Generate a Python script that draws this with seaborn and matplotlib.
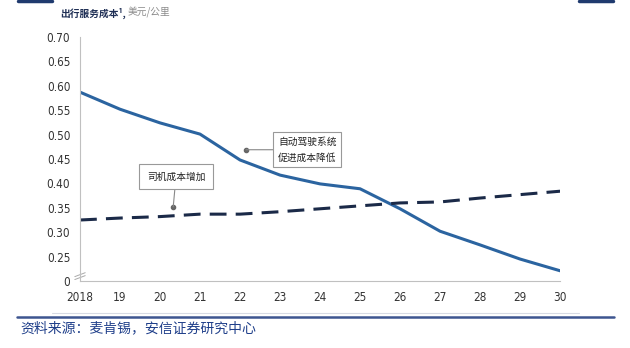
import matplotlib
matplotlib.use("Agg")
import matplotlib.pyplot as plt
import seaborn as sns
import pandas as pd
from matplotlib.lines import Line2D
from matplotlib import font_manager

# Mobility service cost, USD per km
years = [2018, 2019, 2020, 2021, 2022, 2023, 2024, 2025, 2026, 2027, 2028, 2029, 2030]
year_labels = ["2018", "19", "20", "21", "22", "23", "24", "25", "26", "27", "28", "29", "30"]
autonomous_cost = [0.587, 0.552, 0.524, 0.501, 0.448, 0.417, 0.399, 0.389, 0.348, 0.302, 0.274, 0.245, 0.221]
driver_cost = [0.325, 0.329, 0.332, 0.337, 0.337, 0.342, 0.348, 0.354, 0.360, 0.362, 0.370, 0.377, 0.384]
y_ticks = [0.20, 0.25, 0.30, 0.35, 0.40, 0.45, 0.50, 0.55, 0.60, 0.65, 0.70]
y_tick_labels = ["0", "0.25", "0.30", "0.35", "0.40", "0.45", "0.50", "0.55", "0.60", "0.65", "0.70"]

df = pd.DataFrame({"year": years, "auto": autonomous_cost, "driver": driver_cost})

sns.set_theme(style="white")
installed = {f.name for f in font_manager.fontManager.ttflist}
num_stretch = "normal"
if "Liberation Sans Narrow" in installed:
    num_family = "Liberation Sans Narrow"
else:
    num_family = "DejaVu Sans"
    num_stretch = "condensed"
plt.rcParams["font.family"] = [num_family, "Noto Sans CJK SC", "DejaVu Sans"]
cjk = ["Noto Sans CJK SC", "DejaVu Sans"]

fig = plt.figure(figsize=(6.3, 3.48), dpi=100)
ax = fig.add_axes([0.127, 0.1925, 0.762, 0.7012])

blue = "#2b64a0"
navy = "#1b2a48"
sns.lineplot(data=df, x="year", y="auto", ax=ax, color=blue, linewidth=2.2)
sns.lineplot(data=df, x="year", y="driver", ax=ax, color=navy, linewidth=2.2)
ax.lines[-1].set_dashes([5.5, 3])

ax.set_xlim(2018, 2030)
ax.set_ylim(0.20, 0.70)
ax.set_xticks(years)
ax.set_xticklabels(year_labels)
ax.set_yticks(y_ticks)
ax.set_yticklabels(y_tick_labels)
ax.set_xlabel("")
ax.set_ylabel("")
ax.tick_params(axis="both", labelsize=8.5, labelcolor="#333333", length=3, width=0.6,
               direction="out", pad=4, color="#bbbbbb")
for lab in ax.get_xticklabels() + ax.get_yticklabels():
    lab.set_fontstretch(num_stretch)
for side in ["top", "right"]:
    ax.spines[side].set_visible(False)
for side in ["left", "bottom"]:
    ax.spines[side].set_color("#c0c0c0")
    ax.spines[side].set_linewidth(0.8)

# axis break marks at the foot of the y axis
for dy in (0.0, 0.006):
    ax.plot([2017.87, 2018.13], [0.203 + dy, 0.211 + dy], color="#aaaaaa",
            lw=0.7, clip_on=False)

# callouts
box = dict(boxstyle="square,pad=0.5", fc="white", ec="#999999", lw=0.8)
ax.plot([2022.15], [0.469], marker="o", ms=3, color="#666666")
ax.annotate("自动驾驶系统\n促进成本降低", xy=(2022.15, 0.469), xytext=(2022.95, 0.469),
            fontsize=7, family=cjk, color="#222222", va="center", ha="left",
            linespacing=1.7, bbox=box,
            arrowprops=dict(arrowstyle="-", color="#888888", lw=0.8,
                            shrinkA=0, shrinkB=0))
ax.plot([2020.33], [0.352], marker="o", ms=3, color="#666666")
ax.annotate("司机成本增加", xy=(2020.33, 0.352), xytext=(2020.4, 0.414),
            fontsize=7, family=cjk, color="#222222", va="center", ha="center",
            bbox=dict(boxstyle="square,pad=0.75", fc="white", ec="#999999", lw=0.8),
            arrowprops=dict(arrowstyle="-", color="#888888", lw=0.8,
                            shrinkA=0, shrinkB=0))

# header
t1 = fig.text(0.095, 0.963, "出行服务成本¹,", fontsize=7, family=cjk, weight="bold",
              color="#1f2f55", va="center", ha="left")
fig.canvas.draw()
bb = t1.get_window_extent().transformed(fig.transFigure.inverted())
fig.text(bb.x1 + 0.003, 0.963, "美元/公里", fontsize=7, family=cjk, color="#8a8a8a",
         va="center", ha="left")
fig.add_artist(Line2D([0.028, 0.083], [0.997, 0.997], color="#1f3a6e", lw=2.5))
fig.add_artist(Line2D([0.919, 0.973], [0.997, 0.997], color="#1f3a6e", lw=2.5))

# footer rules and source
fig.add_artist(Line2D([0.083, 0.919], [0.101, 0.101], color="#d8dbe4", lw=0.8))
fig.add_artist(Line2D([0.027, 0.975], [0.089, 0.089], color="#3d5590", lw=1.8))
fig.text(0.032, 0.057, "资料来源：麦肯锡，安信证券研究中心", fontsize=10, family=cjk,
         style="italic", color="#1f3f8a", va="center", ha="left")

fig.savefig("out.png", dpi=100, facecolor="white")
